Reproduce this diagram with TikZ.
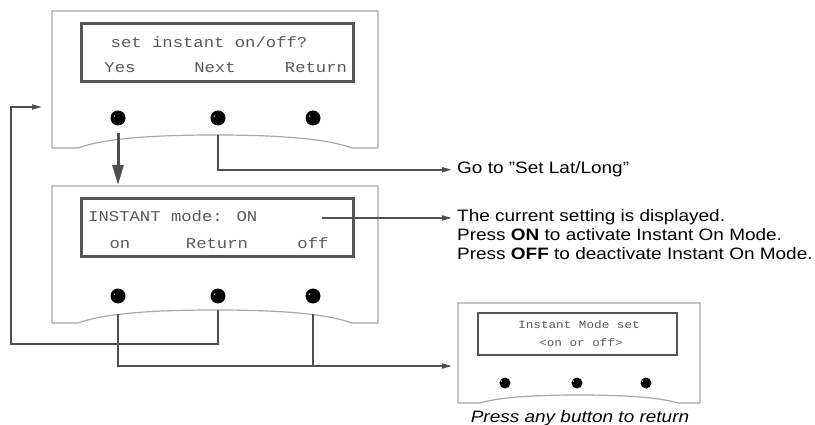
\documentclass[tikz,border=0pt]{standalone}
\usepackage{fontspec}
\setmainfont{Liberation Sans}[FakeStretch=1.15]
\newfontfamily\lcdfont{Liberation Mono}[FakeStretch=1.15]
\usetikzlibrary{arrows.meta}
\definecolor{casegray}{HTML}{A8A8A8}
\definecolor{lcdedge}{HTML}{555555}
\definecolor{lcdink}{HTML}{5A5A5A}
\definecolor{wiregray}{HTML}{4F4F4F}

\begin{document}
\begin{tikzpicture}[x=1pt, y=-1pt,
  case/.style={draw=casegray, line width=1.2, fill=white},
  lcd/.style={draw=lcdedge, line width=3, fill=white, inner sep=0},
  lcdtxt/.style={font=\lcdfont\fontsize{15}{15}\selectfont, text=lcdink, inner sep=0, text height=8, text depth=0},
  smalltxt/.style={lcdtxt, font=\lcdfont\fontsize{11}{11}\selectfont, text height=6},
  knob/.style={circle, fill=black, minimum size=15, inner sep=0,
    path picture={\draw[white, line width=0.6] ([xshift=-4pt,yshift=1pt]path picture bounding box.center) -- ++(0.8pt,1.6pt);}},
  smallknob/.style={knob, minimum size=11},
  wire/.style={draw=wiregray, line width=1.8},
  tip/.style={wire, -{Triangle[length=10,width=5]}},
  bigtip/.style={draw=wiregray, line width=3, -{Triangle[length=20,width=11]}},
  note/.style={align=left, inner sep=0, font=\fontsize{16.5}{19}\selectfont}
]
\useasboundingbox (0,0) rectangle (815,425);

% first panel: set instant on/off
\draw[case] (52,148) -- (78,148) .. controls (100,140) and (140,135) .. (215,135)
  .. controls (290,135) and (330,140) .. (352,148) -- (378,148) -- (378,11) -- (52,11) -- cycle;
\node[lcd, minimum width=272, minimum height=58] (lcd1) at (217,53) {};
\node[lcdtxt] (q1) at (209,44) {set instant on/off?};
\node[lcdtxt] (yes) at (120,69) {Yes};
\node[lcdtxt] (next) at (215,69) {Next};
\node[lcdtxt] (ret1) at (316,69) {Return};
\node[knob] (k1a) at (118,118) {};
\node[knob] (k1b) at (218,118) {};
\node[knob] (k1c) at (313,118) {};

% second panel: instant mode
\draw[case] (52,323) -- (78,323) .. controls (100,315) and (140,310) .. (215,310)
  .. controls (290,310) and (330,315) .. (352,323) -- (378,323) -- (378,186) -- (52,186) -- cycle;
\node[lcd, minimum width=272, minimum height=58] (lcd2) at (217,228) {};
\node[lcdtxt, anchor=west] (mode) at (88,218) {INSTANT mode: ON};
\node[lcdtxt] (on) at (120,244) {on};
\node[lcdtxt] (ret2) at (217,244) {Return};
\node[lcdtxt] (off) at (313,244) {off};
\node[knob] (k2a) at (118,296) {};
\node[knob] (k2b) at (218,296) {};
\node[knob] (k2c) at (313,296) {};

% third panel: confirmation
\draw[case] (458,403) -- (480,403) .. controls (497,398) and (526,395) .. (579,395)
  .. controls (632,395) and (661,398) .. (678,403) -- (700,403) -- (700,303) -- (458,303) -- cycle;
\node[lcd, line width=2.6, minimum width=199, minimum height=42] (lcd3) at (577.5,334) {};
\node[smalltxt] (set) at (579,325) {Instant Mode set};
\node[smalltxt] (onoff) at (581,343) {<on or off>};
\node[smallknob] (k3a) at (505,383) {};
\node[smallknob] (k3b) at (577,383) {};
\node[smallknob] (k3c) at (646,383) {};
\node[note, anchor=north] (back) at (580,410) {\itshape Press any button to return};

% notes
\node[note, anchor=base west] (goto) at (457,174) {Go to \symbol{34}Set Lat/Long\symbol{34}};
\node[note, anchor=north west] (info) at (457,209.5) {The current setting is displayed.\\
  Press \textbf{ON} to activate Instant On Mode.\\
  Press \textbf{OFF} to deactivate Instant On Mode.};

% connectors
\coordinate (s1a) at (118,133);
\coordinate (s1b) at (218,135);
\coordinate (s2a) at (118,314);
\coordinate (s2b) at (218,310);
\coordinate (s2c) at (313,314);
\coordinate (c2) at (322,218);
\coordinate (in1) at (52,107);
\coordinate (in2) at (118,186);
\coordinate (in3) at (458,366);

\draw[bigtip, shorten >=1] (s1a) -- (in2);
\draw[tip, shorten >=5] (s1b) |- (goto.west);
\draw[tip] (c2) -- ([xshift=-5pt]c2 -| info.west);
\draw[tip, shorten >=10] (s2b) |- (11,344) |- (in1);
\draw[tip, shorten >=6] (s2a) |- (in3);
\draw[wire] (s2c) -- (s2c |- in3);
\end{tikzpicture}
\end{document}
